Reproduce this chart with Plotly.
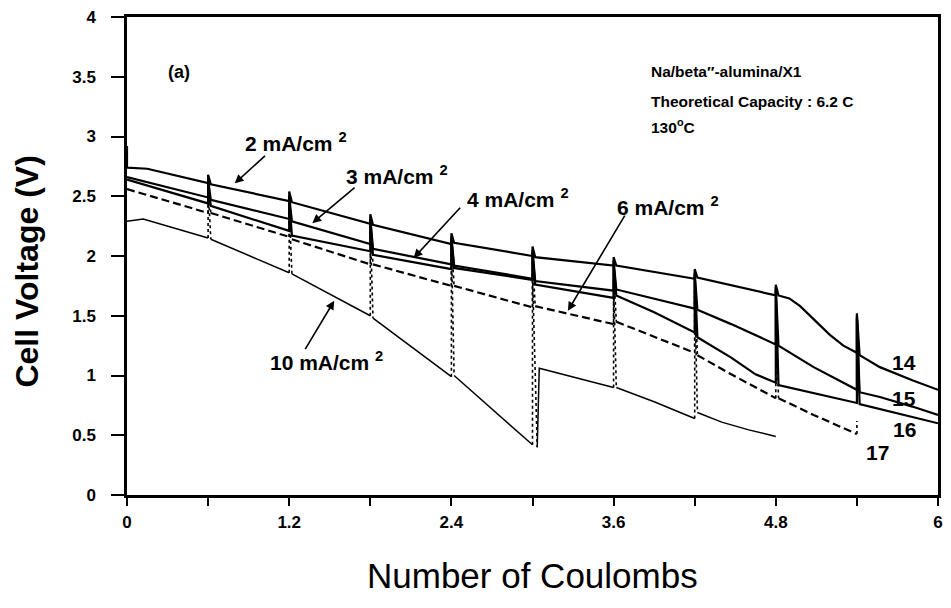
import plotly.graph_objects as go

# ---------------- data ----------------
# Rest (open-circuit pulse) positions, in coulombs
REST_POINTS = [0.6, 1.2, 1.8, 2.4, 3.0, 3.6, 4.2, 4.8, 5.4]

# 2 mA/cm2  (cell 14) - discharge segments between rests
C14_X = [[0, 0.15, 0.6], [0.62, 1.2], [1.22, 1.8], [1.82, 2.4], [2.42, 3.0],
         [3.02, 3.6], [3.62, 4.2], [4.22, 4.8],
         [4.82, 4.9, 4.98, 5.08, 5.2, 5.3, 5.4],
         [5.42, 5.57, 5.81, 6.0]]
C14_V = [[2.74, 2.73, 2.61], [2.60, 2.46], [2.45, 2.27], [2.26, 2.10], [2.11, 2.00],
         [1.99, 1.92], [1.92, 1.81], [1.82, 1.67],
         [1.67, 1.645, 1.58, 1.47, 1.34, 1.25, 1.19],
         [1.17, 1.07, 0.96, 0.88]]
C14_REST = [2.68, 2.54, 2.35, 2.19, 2.08, 1.99, 1.89, 1.76, 1.52]
C14_OCV0 = 2.92

# 3 mA/cm2  (cell 15)
C15_X = [[0, 0.6], [0.62, 1.2], [1.22, 1.8], [1.82, 2.4], [2.42, 3.0],
         [3.02, 3.6], [3.62, 4.2], [4.22, 4.47, 4.8], [4.82, 5.08, 5.4],
         [5.42, 5.57, 5.81, 6.0]]
C15_V = [[2.66, 2.49], [2.47, 2.31], [2.29, 2.10], [2.06, 1.93], [1.92, 1.81],
         [1.79, 1.71], [1.72, 1.56], [1.55, 1.43, 1.26], [1.25, 1.07, 0.88],
         [0.86, 0.82, 0.74, 0.67]]
C15_REST = [2.64, 2.50, 2.32, 2.16, 2.05, 1.96, 1.86, 1.74, 1.50]

# 4 mA/cm2  (cell 16)
C16_X = [[0, 0.6], [0.62, 1.2], [1.22, 1.8], [1.82, 2.4], [2.42, 3.0],
         [3.02, 3.6], [3.62, 3.9, 4.2], [4.22, 4.47, 4.65, 4.8], [4.82, 5.4],
         [5.42, 6.0]]
C16_V = [[2.64, 2.44], [2.42, 2.21], [2.17, 2.04], [2.01, 1.89], [1.90, 1.80],
         [1.76, 1.65], [1.67, 1.53, 1.36], [1.32, 1.15, 1.01, 0.94], [0.92, 0.77],
         [0.76, 0.60]]
C16_REST = [2.62, 2.48, 2.30, 2.14, 2.03, 1.94, 1.84, 1.72, 1.48]

# 6 mA/cm2  (cell 17, dashed)
C17_X = [[0, 0.6], [0.62, 1.2], [1.22, 1.8], [1.82, 2.4], [2.42, 3.0],
         [3.02, 3.6], [3.62, 4.2], [4.22, 4.47, 4.8], [4.82, 5.08, 5.4]]
C17_V = [[2.56, 2.36], [2.36, 2.16], [2.14, 1.93], [1.93, 1.75], [1.75, 1.57],
         [1.58, 1.43], [1.45, 1.19], [1.17, 1.01, 0.81], [0.81, 0.67, 0.51]]
C17_REST = [2.60, 2.45, 2.28, 2.12, 2.00, 1.90, 1.80, 1.70, 0.62]

# 10 mA/cm2
C10_X = [[0, 0.12, 0.6], [0.62, 1.2], [1.22, 1.8], [1.82, 2.4],
         [2.42, 3.0], [3.035, 3.05, 3.6], [3.62, 3.9, 4.2], [4.22, 4.4, 4.6, 4.8]]
C10_V = [[2.29, 2.31, 2.15], [2.14, 1.86], [1.85, 1.50], [1.48, 0.99],
         [1.00, 0.42], [0.40, 1.06, 0.90], [0.90, 0.78, 0.64], [0.69, 0.61, 0.545, 0.49]]
C10_REST = [2.58, 2.42, 2.25, 2.10, 1.85, 1.80, 1.72]

# axis ticks
X_TICKS = [0, 0.6, 1.2, 1.8, 2.4, 3.0, 3.6, 4.2, 4.8, 5.4, 6.0]
X_TICK_TEXT = ["0", "", "1.2", "", "2.4", "", "3.6", "", "4.8", "", "6"]
Y_TICKS = [0, 0.5, 1, 1.5, 2, 2.5, 3, 3.5, 4]
Y_TICK_TEXT = ["0", "0.5", "1", "1.5", "2", "2.5", "3", "3.5", "4"]

# text labels
CURRENT_LABELS = ["2 mA/cm <sup>2</sup>", "3 mA/cm <sup>2</sup>", "4 mA/cm <sup>2</sup>",
                  "6 mA/cm <sup>2</sup>", "10 mA/cm <sup>2</sup>"]
CURRENT_LABEL_POS = [(0.857, 2.95), (1.606, 2.675), (2.504, 2.485), (3.608, 2.415), (1.040, 1.12)]
ARROW_TAIL = [(1.032, 2.85), (1.695, 2.583), (2.475, 2.417), (3.689, 2.35), (1.312, 1.208)]
ARROW_TIP = [(0.797, 2.608), (1.371, 2.275), (2.121, 1.983), (3.262, 1.542), (1.533, 1.625)]
CELL_LABELS = ["14", "15", "16", "17"]
CELL_LABEL_POS = [(5.751, 1.108), (5.751, 0.808), (5.751, 0.55), (5.551, 0.358)]
INFO_LINES = ["Na/beta″-alumina/X1", "Theoretical Capacity : 6.2 C", "130<sup>o</sup>C"]
INFO_POS = [(3.865, 3.54), (3.865, 3.295), (3.865, 3.085)]

FONT = "Liberation Sans, Arial, sans-serif"


def solid_path(xs, vs, rest, ocv0=None):
    X, Y = [], []
    if ocv0 is not None:
        X.append(xs[0][0]); Y.append(ocv0)
    for k in range(len(xs)):
        X += xs[k]; Y += vs[k]
        if k < len(rest) and k < len(xs) - 1:
            X.append(xs[k][-1]); Y.append(rest[k])
    return X, Y


def seg_path(xs, vs):
    X, Y = [], []
    for k in range(len(xs)):
        X += xs[k] + [None]; Y += vs[k] + [None]
    return X, Y


def rest_path(xs, vs, rest):
    X, Y = [], []
    for k in range(len(rest)):
        X += [xs[k][-1], xs[k][-1]]; Y += [vs[k][-1], rest[k]]
        if k + 1 < len(xs):
            X.append(xs[k + 1][0]); Y.append(vs[k + 1][0])
        X.append(None); Y.append(None)
    return X, Y


fig = go.Figure()

# rest (dotted) verticals for the 6 and 10 mA curves
for xs, vs, rest in [(C10_X, C10_V, C10_REST), (C17_X, C17_V, C17_REST)]:
    rx, ry = rest_path(xs, vs, rest)
    fig.add_trace(go.Scatter(x=rx, y=ry, mode="lines", connectgaps=False,
                             line=dict(color="black", width=1.6, dash="dot"),
                             hoverinfo="skip", showlegend=False))

# 10 mA (thin)
sx, sy = seg_path(C10_X, C10_V)
fig.add_trace(go.Scatter(x=sx, y=sy, mode="lines", connectgaps=False,
                         line=dict(color="black", width=1.5), showlegend=False))
# 6 mA (dashed)
sx, sy = seg_path(C17_X, C17_V)
fig.add_trace(go.Scatter(x=sx, y=sy, mode="lines", connectgaps=False,
                         line=dict(color="black", width=2.2, dash="8px,4px"), showlegend=False))
# 2, 3, 4 mA (solid with rest spikes)
for xs, vs, rest, ocv in [(C16_X, C16_V, C16_REST, None), (C15_X, C15_V, C15_REST, None),
                          (C14_X, C14_V, C14_REST, C14_OCV0)]:
    px, py = solid_path(xs, vs, rest, ocv)
    fig.add_trace(go.Scatter(x=px, y=py, mode="lines",
                             line=dict(color="black", width=2.2, shape="linear"),
                             showlegend=False))

ann = []
for txt, (x, y) in zip(CURRENT_LABELS, CURRENT_LABEL_POS):
    ann.append(dict(x=x, y=y, xref="x", yref="y", text=txt, showarrow=False,
                    xanchor="left", yanchor="middle",
                    font=dict(family=FONT, size=21, color="black", weight="bold")))
for (tx, ty), (hx, hy) in zip(ARROW_TAIL, ARROW_TIP):
    ann.append(dict(x=hx, y=hy, ax=tx, ay=ty, xref="x", yref="y", axref="x", ayref="y",
                    text="", showarrow=True, arrowhead=2, arrowsize=1.1, arrowwidth=1.6,
                    arrowcolor="black", standoff=0))
for txt, (x, y) in zip(CELL_LABELS, CELL_LABEL_POS):
    ann.append(dict(x=x, y=y, xref="x", yref="y", text=txt, showarrow=False,
                    xanchor="center", yanchor="middle",
                    font=dict(family=FONT, size=21, color="black", weight="bold")))
for txt, (x, y) in zip(INFO_LINES, INFO_POS):
    ann.append(dict(x=x, y=y, xref="x", yref="y", text=txt, showarrow=False,
                    xanchor="left", yanchor="middle",
                    font=dict(family=FONT, size=15.5, color="black", weight="bold")))
ann.append(dict(x=0.385, y=3.542, xref="x", yref="y", text="(a)", showarrow=False,
                xanchor="center", yanchor="middle",
                font=dict(family=FONT, size=18, color="black", weight="bold")))
# axis titles
ann.append(dict(x=0.5, y=-0.168, xref="paper", yref="paper", text="Number of Coulombs",
                showarrow=False, xanchor="center", yanchor="middle",
                font=dict(family=FONT, size=35, color="black")))
ann.append(dict(x=-0.123, y=0.468, xref="paper", yref="paper", text="Cell Voltage (V)",
                showarrow=False, xanchor="center", yanchor="middle", textangle=-90,
                font=dict(family=FONT, size=32, color="black", weight="bold")))

fig.update_layout(
    width=951, height=608, autosize=False,
    margin=dict(l=127, r=8, t=14, b=113),
    paper_bgcolor="white", plot_bgcolor="white",
    annotations=ann, showlegend=False,
    font=dict(family=FONT, color="black"),
)
fig.update_xaxes(range=[0, 6], tickmode="array", tickvals=X_TICKS, ticktext=X_TICK_TEXT,
                 ticks="outside", ticklen=8, tickwidth=2, tickcolor="black",
                 showline=True, linewidth=2.5, linecolor="black", mirror=True,
                 showgrid=False, zeroline=False, ticklabelstandoff=2,
                 tickfont=dict(family=FONT, size=17, color="black", weight="bold"))
fig.update_yaxes(range=[0, 4], tickmode="array", tickvals=Y_TICKS, ticktext=Y_TICK_TEXT,
                 ticks="outside", ticklen=13, tickwidth=2, tickcolor="black",
                 showline=True, linewidth=2.5, linecolor="black", mirror=True,
                 showgrid=False, zeroline=False, ticklabelstandoff=12,
                 tickfont=dict(family=FONT, size=17, color="black", weight="bold"))

fig.write_html("out.html", config={"displayModeBar": False},
               post_script="document.body.style.margin='0';document.body.style.overflow='hidden';")
